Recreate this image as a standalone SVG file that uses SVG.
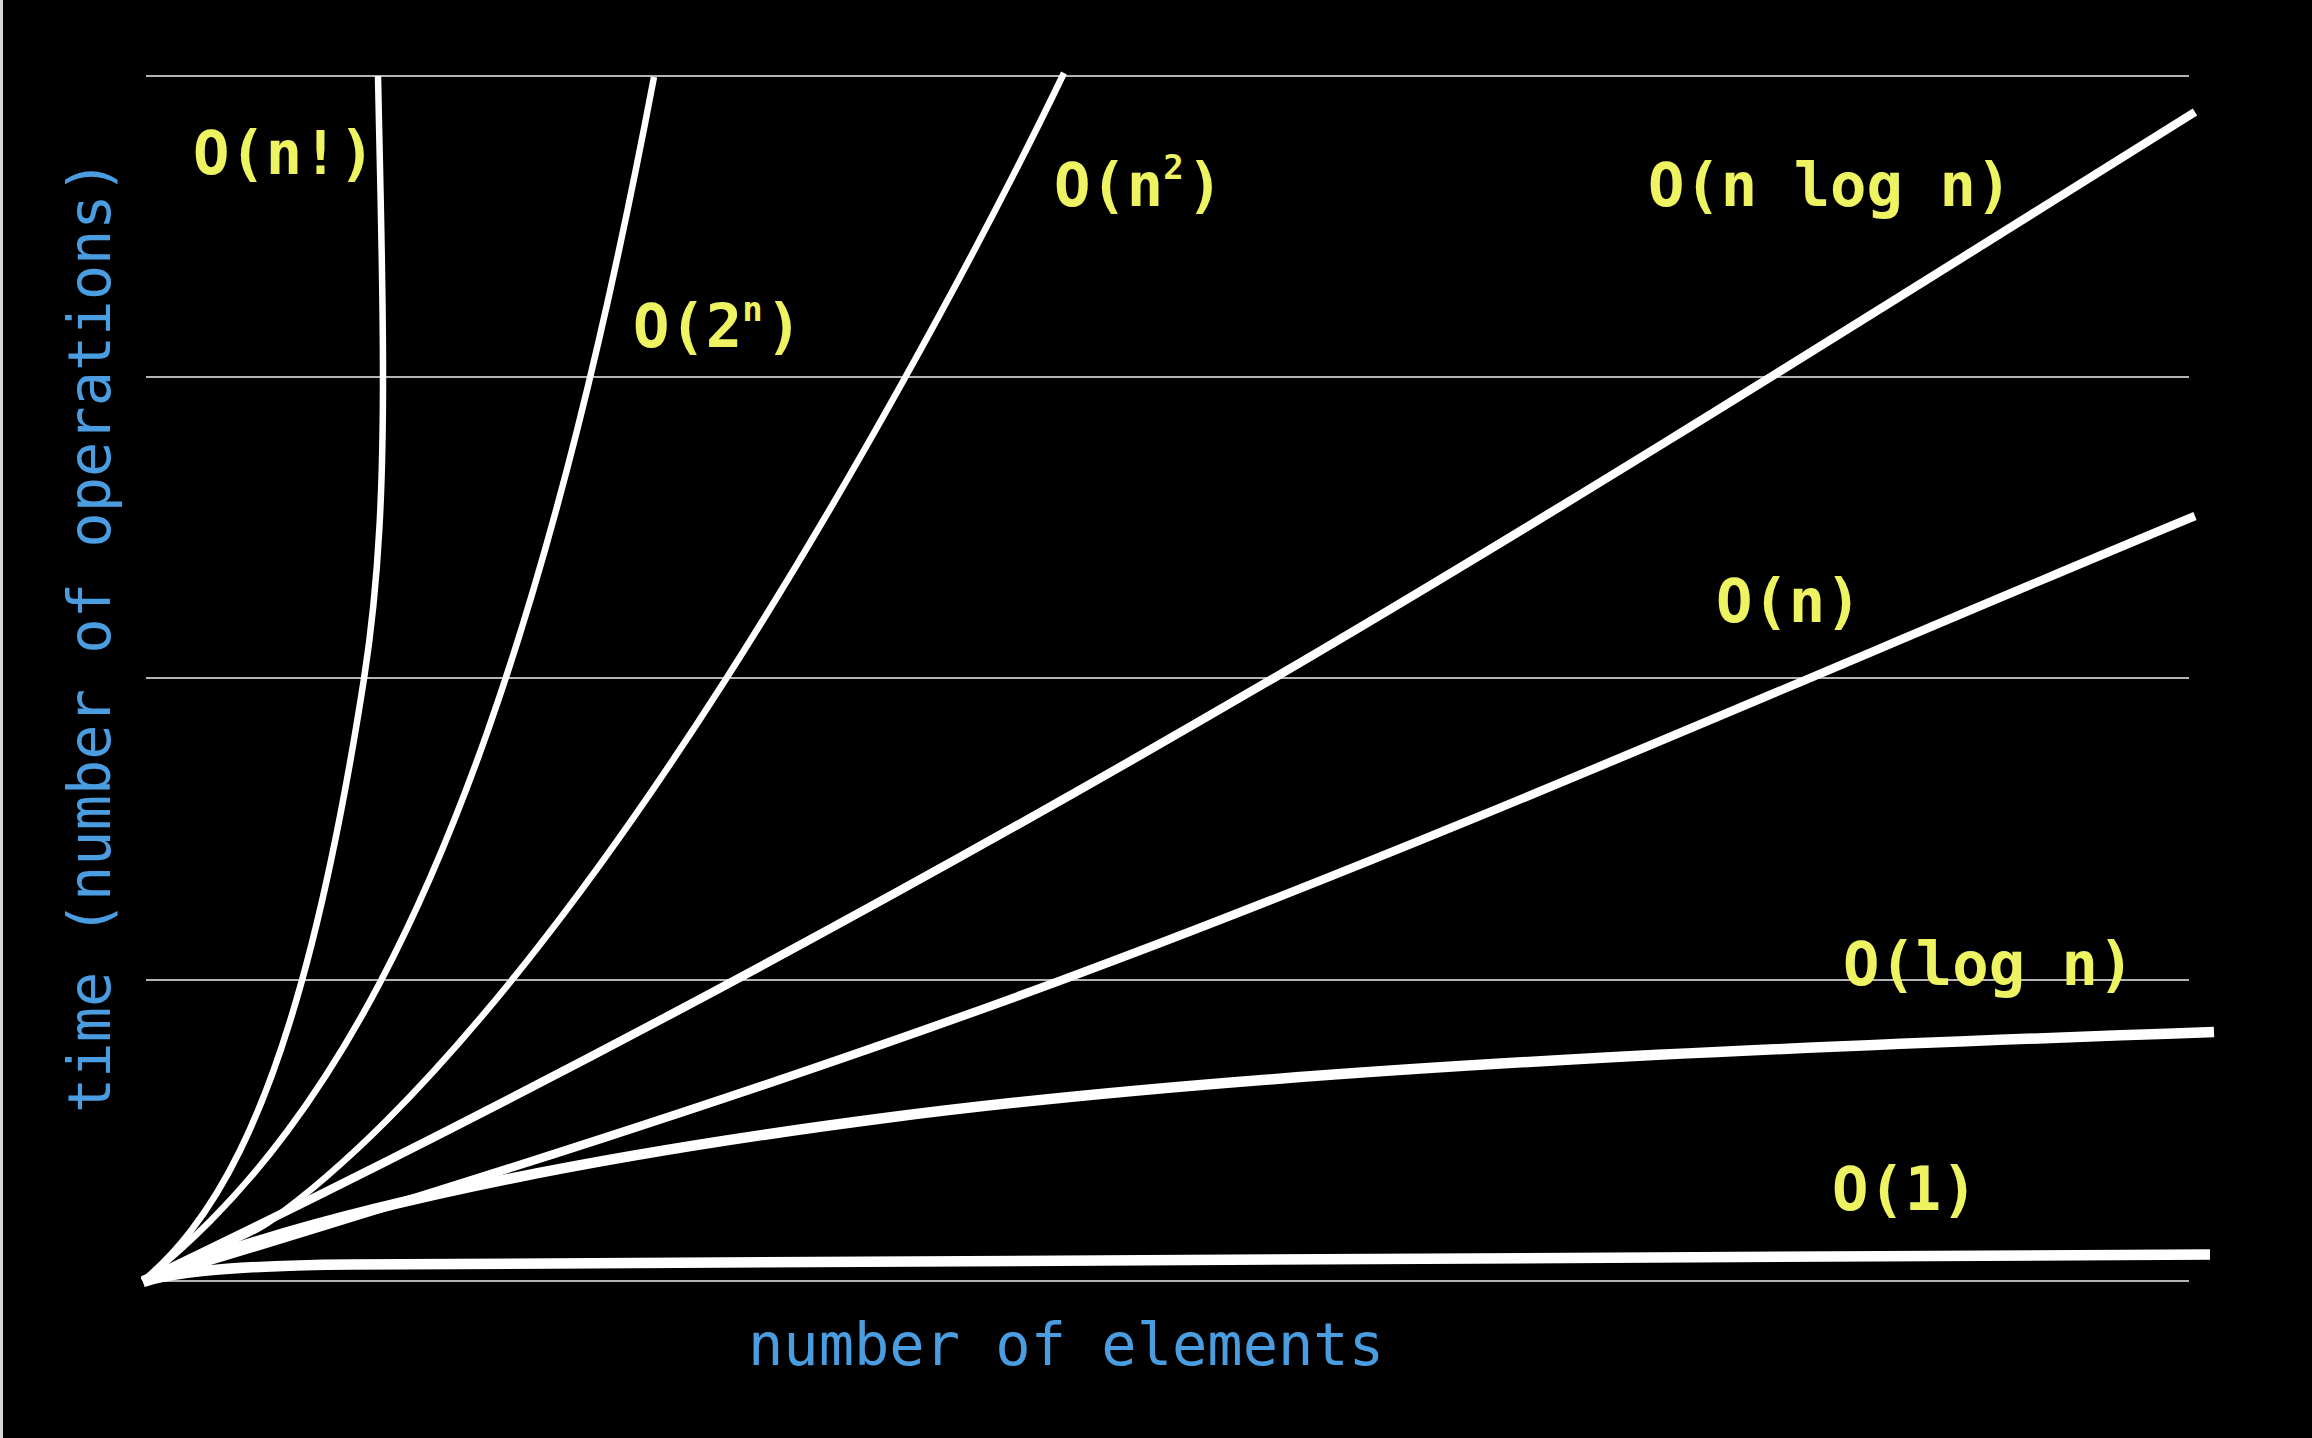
<svg xmlns="http://www.w3.org/2000/svg" width="2312" height="1438" viewBox="0 0 2312 1438">
<style>
.grid{stroke:#b4b4b4;stroke-width:2;fill:none}
.curve{stroke:#ffffff;fill:none;stroke-linecap:butt;stroke-linejoin:round}
.lbl{font-family:"DejaVu Sans Mono","Liberation Mono",monospace;font-weight:bold;font-size:60.5px;fill:#eef461}
.sup{font-size:34px}
.axis{font-family:"DejaVu Sans Mono","Liberation Mono",monospace;font-size:58.7px;fill:#4a9de0}
</style>
<rect id="background" x="0" y="0" width="2312" height="1438" fill="#000000"/>
<rect id="left-edge" x="0" y="0" width="3" height="1438" fill="#d8d8d8"/>
<g id="grid">
<line class="grid" x1="146" y1="76" x2="2189" y2="76"/>
<line class="grid" x1="146" y1="377" x2="2189" y2="377"/>
<line class="grid" x1="146" y1="678" x2="2189" y2="678"/>
<line class="grid" x1="146" y1="980" x2="2189" y2="980"/>
<line class="grid" x1="146" y1="1281" x2="2189" y2="1281"/>
</g>
<g id="curves">
<path id="curve-factorial" class="curve" stroke-width="6.5" d="M143,1281 C163.05,1264.3 177.9,1247.7 190.8,1231 C211.4,1204.3 226.7,1177.7 239.8,1151 C261.1,1107.7 276.7,1064.3 290.1,1021 C306.6,967.7 319.6,914.3 330.9,861 C343.9,800 354.6,739 364.1,678 C379.8,577.3 383,476.7 383,376 C383,276 380,176 378,76"/>
<path id="curve-exponential" class="curve" stroke-width="6.5" d="M143,1281 C168.5,1261 190.4,1241 210.3,1221 C240.1,1191 265.1,1161 287.4,1131 C324.6,1081 354.55,1031 380.8,981 C424.55,897.67 458.3,814.33 487.7,731 C523,631 551.6,531 576.9,431 C606.75,313 631.6,195 654,77"/>
<path id="curve-quadratic" class="curve" stroke-width="6.5" d="M143,1281 C179,1261 242.2,1241 270.2,1221 C316.9,1187.7 352.7,1154.3 386.1,1121 C439.6,1067.7 484.8,1014.3 527.1,961 C601.1,867.7 665,774.3 724.7,681 C788.7,581 847.5,481 903.2,381 C960.4,278.3 1014.6,175.7 1064,73"/>
<path id="curve-nlogn" class="curve" stroke-width="8.5" d="M143,1281 C523,1099 894,900 1274,678 C1574,502.5 1895,299.5 2195,112"/>
<path id="curve-linear" class="curve" stroke-width="8.5" d="M143,1281 C443,1191 762,1091 1062,980 C1442,839.4 1815,673.7 2195,516"/>
<path id="curve-log" class="curve" stroke-width="10.5" d="M143,1281 C343,1201 635,1150.5 885,1118 C1285,1066 1814,1046 2214,1032"/>
<path id="curve-constant" class="curve" stroke-width="10.5" d="M143,1282 Q190,1266 350,1264.5 L2210,1254.5"/>
</g>
<g id="labels">
<text id="label-factorial" class="lbl" x="193" y="174">O(n!)</text>
<text id="label-exponential" class="lbl" x="633" y="347">O(2<tspan class="sup" dy="-26">n</tspan><tspan dy="26" dx="3">)</tspan></text>
<text id="label-quadratic" class="lbl" x="1054" y="206">O(n<tspan class="sup" dy="-27">2</tspan><tspan dy="27" dx="3">)</tspan></text>
<text id="label-nlogn" class="lbl" x="1648" y="206">O(n log n)</text>
<text id="label-linear" class="lbl" x="1716" y="622">O(n)</text>
<text id="label-log" class="lbl" x="1843" y="985">O(log n)</text>
<text id="label-constant" class="lbl" x="1832" y="1210">O(1)</text>
</g>
<g id="axes">
<text id="x-axis-label" class="axis" x="748" y="1365">number of elements</text>
<text id="y-axis-label" class="axis" transform="translate(110,1113) rotate(-90)" x="0" y="0">time (number of operations)</text>
</g>
</svg>
